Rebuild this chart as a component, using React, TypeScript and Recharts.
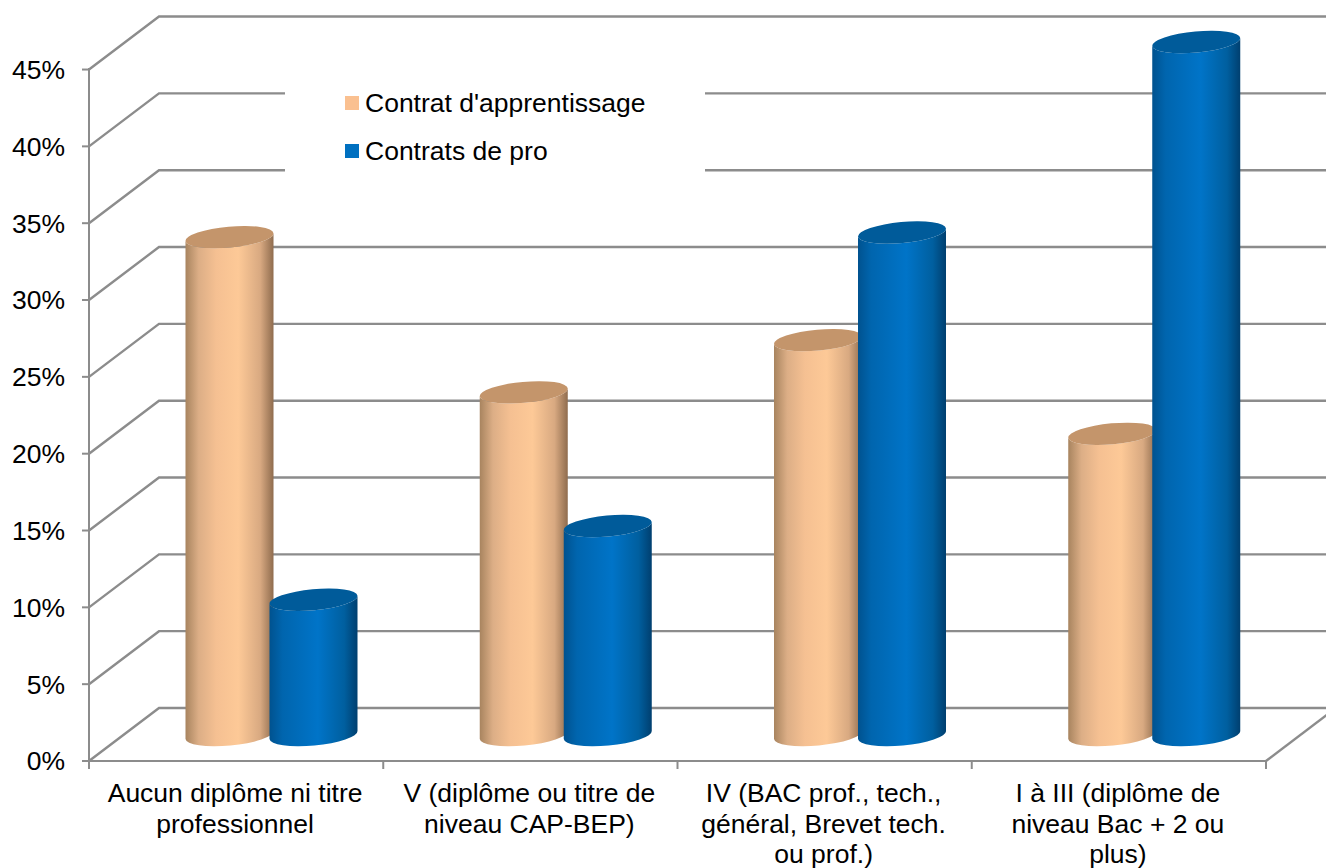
import { BarChart, Bar, XAxis, YAxis, CartesianGrid, Legend } from "recharts";

const categories = [
  "Aucun diplôme ni titre|professionnel",
  "V (diplôme ou titre de|niveau CAP-BEP)",
  "IV (BAC prof., tech.,|général, Brevet tech.|ou prof.)",
  "I à III (diplôme de|niveau Bac + 2 ou|plus)",
];
const apprentissage = [32.4, 22.3, 25.7, 19.6];
const pro = [8.8, 13.6, 32.7, 45.1];
const yTicks = [0, 5, 10, 15, 20, 25, 30, 35, 40, 45];

const data = categories.map((name, i) => ({ name, apprentissage: apprentissage[i], pro: pro[i] }));

const font = "'Liberation Sans', Arial, sans-serif";
const gridColor = "#8c8c8c";
// depth of the fake 3D floor
const depthX = 70;
const depthY = 53;
const bandWidth = 294.25;

const GridLine = (props: any) => {
  const { x1, x2, y1 } = props;
  return (
    <g stroke={gridColor} strokeWidth={2.4} fill="none">
      <polyline points={`${x1},${y1} ${x1 + depthX},${y1 - depthY} ${x2 + depthX},${y1 - depthY}`} />
      {y1 > 700 && <line x1={x2} y1={y1} x2={x2 + depthX} y2={y1 - depthY} />}
    </g>
  );
};

const Cylinder = (props: any) => {
  const { x, y, width, height, gradient, topColor } = props;
  const left = x + depthX / 2 + 0.5;
  const right = left + width;
  const top = y - 26;
  const bottom = y + height - 26;
  const tilt = 4;
  const rx = Math.hypot(width / 2, tilt);
  const ry = 10.5;
  const angle = (-Math.atan(tilt / (width / 2)) * 180) / Math.PI;
  const body = `M${left},${top + tilt} L${left},${bottom + tilt} A${rx},${ry} ${angle} 0 0 ${right},${bottom - tilt} L${right},${top - tilt} A${rx},${ry} ${angle} 0 1 ${left},${top + tilt} Z`;
  const cx = (left + right) / 2;
  return (
    <g>
      <path d={body} fill={`url(#${gradient})`} />
      <ellipse cx={cx} cy={top} rx={rx} ry={ry} fill={topColor} transform={`rotate(${angle} ${cx} ${top})`} />
    </g>
  );
};

const CategoryTick = (props: any) => {
  const { x, y, payload, index } = props;
  const lines = String(payload.value).split("|");
  const half = bandWidth / 2;
  return (
    <g>
      <line x1={x - half} y1={y - 8} x2={x - half} y2={y} stroke={gridColor} strokeWidth={2} />
      {index === categories.length - 1 && (
        <line x1={x + half} y1={y - 8} x2={x + half} y2={y} stroke={gridColor} strokeWidth={2} />
      )}
      <text x={x - 1} y={y + 33} textAnchor="middle" fontSize={26.5} fontFamily={font} fill="#000">
        {lines.map((l, i) => (
          <tspan key={i} x={x - 1} dy={i === 0 ? 0 : 30.7}>
            {l}
          </tspan>
        ))}
      </text>
    </g>
  );
};

const LegendBox = ({ payload }: any) => (
  <div style={{ position: "relative", width: 420, height: 110, background: "#fff", fontFamily: font, fontSize: 26.5 }}>
    {(payload || []).map((p: any, i: number) => (
      <div key={p.value} style={{ position: "absolute", left: 60, top: 14 + i * 48, height: 30, lineHeight: "30px", whiteSpace: "nowrap", color: "#000" }}>
        <span style={{ position: "absolute", left: 0, top: 7, width: 14, height: 14, background: p.color }} />
        <span style={{ position: "absolute", left: 20, top: -1 }}>{p.value}</span>
      </div>
    ))}
  </div>
);

export default function App() {
  return (
    <div style={{ position: "absolute", left: 0, top: 0, width: 1326, height: 868, background: "#fff", overflow: "hidden" }}>
      <BarChart
        width={1326}
        height={868}
        data={data}
        margin={{ top: 68, right: 60, bottom: 0, left: 0 }}
        barSize={88}
        barGap={-4}
      >
        <defs>
          <linearGradient id="gradOrange" x1="0" y1="0" x2="1" y2="0">
            <stop offset="0" stopColor="#a8845f" />
            <stop offset="0.15" stopColor="#dcae86" />
            <stop offset="0.35" stopColor="#f5c092" />
            <stop offset="0.6" stopColor="#fdc997" />
            <stop offset="0.85" stopColor="#d8a981" />
            <stop offset="1" stopColor="#8f6c4e" />
          </linearGradient>
          <linearGradient id="gradBlue" x1="0" y1="0" x2="1" y2="0">
            <stop offset="0" stopColor="#00528f" />
            <stop offset="0.15" stopColor="#0065ae" />
            <stop offset="0.55" stopColor="#0074c8" />
            <stop offset="0.85" stopColor="#005f9f" />
            <stop offset="1" stopColor="#003f6f" />
          </linearGradient>
        </defs>
        <CartesianGrid vertical={false} syncWithTicks horizontal={(p: any) => <GridLine key={p.key} {...p} />} />
        <XAxis
          dataKey="name"
          height={107}
          interval={0}
          tick={CategoryTick}
          tickLine={false}
          axisLine={{ stroke: gridColor, strokeWidth: 2 }}
        />
        <YAxis
          width={89}
          domain={[0, 45]}
          ticks={yTicks}
          interval={0}
          tickFormatter={(v: number) => `${v}%`}
          tick={{ fontSize: 26.5, fontFamily: font, fill: "#000" }}
          tickSize={7}
          tickMargin={17}
          tickLine={{ stroke: gridColor, strokeWidth: 2 }}
          axisLine={{ stroke: gridColor, strokeWidth: 2 }}
        />
        {/* zero height wrapper so the legend takes no room from the plot */}
        <Legend
          layout="vertical"
          content={LegendBox}
          wrapperStyle={{ position: "absolute", left: 285, top: 75, width: 420, height: 0, bottom: "auto" }}
        />
        <Bar
          dataKey="apprentissage"
          name="Contrat d'apprentissage"
          fill="#fac090"
          isAnimationActive={false}
          shape={(p: any) => <Cylinder {...p} gradient="gradOrange" topColor="#c4956b" />}
        />
        <Bar
          dataKey="pro"
          name="Contrats de pro"
          fill="#0070c0"
          isAnimationActive={false}
          shape={(p: any) => <Cylinder {...p} gradient="gradBlue" topColor="#005b9a" />}
        />
      </BarChart>
    </div>
  );
}
